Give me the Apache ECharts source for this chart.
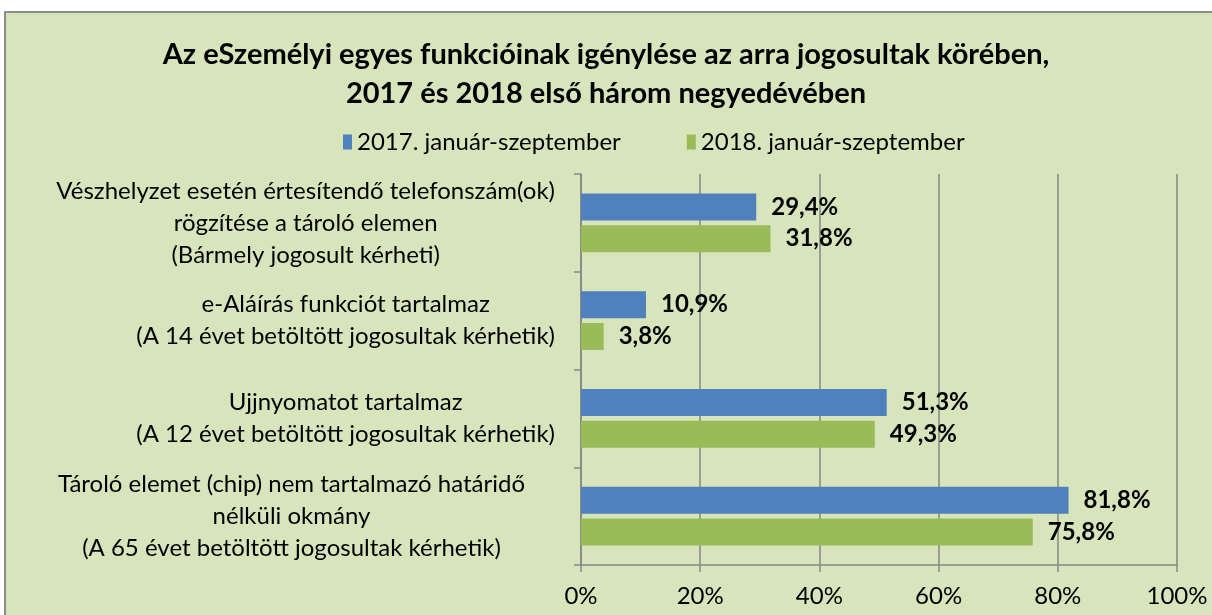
<!DOCTYPE html>
<html>
<head>
<meta charset="utf-8">
<script src="https://cdn.jsdelivr.net/npm/echarts@6/dist/echarts.min.js"></script>
<style>
  html, body { margin: 0; padding: 0; background: #ffffff; overflow: hidden; }
  .frame {
    position: absolute; left: 4px; top: 11px;
    width: 1240px; height: 640px;
    background: #D8E4BC; border: 2px solid #8C8C8C;
  }
  #chart { position: absolute; left: 0; top: 0; width: 1212px; height: 615px; }
</style>
</head>
<body>
<div class="frame"></div>
<div id="chart"></div>
<script>
  // kategóriák (felülről lefelé)
  const categories = [
    'Vészhelyzet esetén értesítendő telefonszám(ok)\nrögzítése a tároló elemen\n(Bármely jogosult kérheti)',
    'e-Aláírás funkciót tartalmaz\n(A 14 évet betöltött jogosultak kérhetik)',
    'Ujjnyomatot tartalmaz\n(A 12 évet betöltött jogosultak kérhetik)',
    'Tároló elemet (chip) nem tartalmazó határidő\nnélküli okmány\n(A 65 évet betöltött jogosultak kérhetik)'
  ];
  const seriesNames = ['2017. január-szeptember', '2018. január-szeptember'];
  const values2017 = [29.4, 10.9, 51.3, 81.8];
  const values2018 = [31.8, 3.8, 49.3, 75.8];
  const colorList = ['#4F81BD', '#9BBB59'];

  const font = 'Lato, "Open Sans", sans-serif';
  let myChart = echarts.init(document.getElementById('chart'));

  const fmtPct = p => p.value.toFixed(1).replace('.', ',') + '%';

  function barSeries(name, data) {
    return {
      name: name,
      type: 'bar',
      data: data,
      barGap: '18%',
      barCategoryGap: '40%',
      label: {
        show: true,
        position: 'right',
        distance: 15,
        formatter: fmtPct,
        color: '#000',
        fontFamily: font,
        fontWeight: 'bold',
        fontSize: 24
      }
    };
  }

  let option = {
    backgroundColor: 'transparent',
    color: colorList,
    title: {
      text: 'Az eSzemélyi egyes funkcióinak igénylése az arra jogosultak körében,\n2017 és 2018 első három negyedévében',
      left: 'center',
      top: 30,
      textStyle: {
        fontFamily: font,
        fontWeight: 'bold',
        fontSize: 29,
        lineHeight: 39,
        color: '#000'
      }
    },
    legend: {
      data: seriesNames,
      left: 338,
      top: 125,
      icon: 'rect',
      itemWidth: 9,
      itemHeight: 15,
      itemGap: 66,
      textStyle: { fontFamily: font, fontSize: 24, color: '#000' }
    },
    grid: { left: 581, right: 35, top: 174, bottom: 50, containLabel: false },
    xAxis: {
      type: 'value',
      min: 0,
      max: 100,
      interval: 20,
      axisLine: { show: true, lineStyle: { color: '#868686', width: 1.5 } },
      axisTick: { show: true, length: 7, inside: false, lineStyle: { color: '#868686', width: 1.5 } },
      splitLine: { show: true, lineStyle: { color: '#868686', width: 1.5 } },
      axisLabel: {
        formatter: '{value}%',
        margin: 19,
        fontFamily: font,
        fontSize: 24,
        color: '#000'
      }
    },
    yAxis: {
      type: 'category',
      data: categories,
      inverse: true,
      axisLine: { show: true, lineStyle: { color: '#868686', width: 1.5 } },
      axisTick: { show: true, length: 7, lineStyle: { color: '#868686', width: 1.5 } },
      axisLabel: {
        margin: 26,
        formatter: (v, i) => v.split('\n').map(l => '{' + (i === 3 ? 'd' : 'c') + '|' + l + '}').join('\n'),
        rich: {
          c: {
            align: 'center',
            fontFamily: font,
            fontSize: 24,
            lineHeight: 32,
            color: '#000'
          },
          d: {
            align: 'center',
            fontFamily: font,
            fontSize: 24,
            lineHeight: 32,
            color: '#000',
            padding: [0, 30, 0, 0]
          }
        }
      }
    },
    series: [
      barSeries(seriesNames[0], values2017),
      barSeries(seriesNames[1], values2018)
    ]
  };
  myChart.setOption(option, true);
</script>
</body>
</html>
